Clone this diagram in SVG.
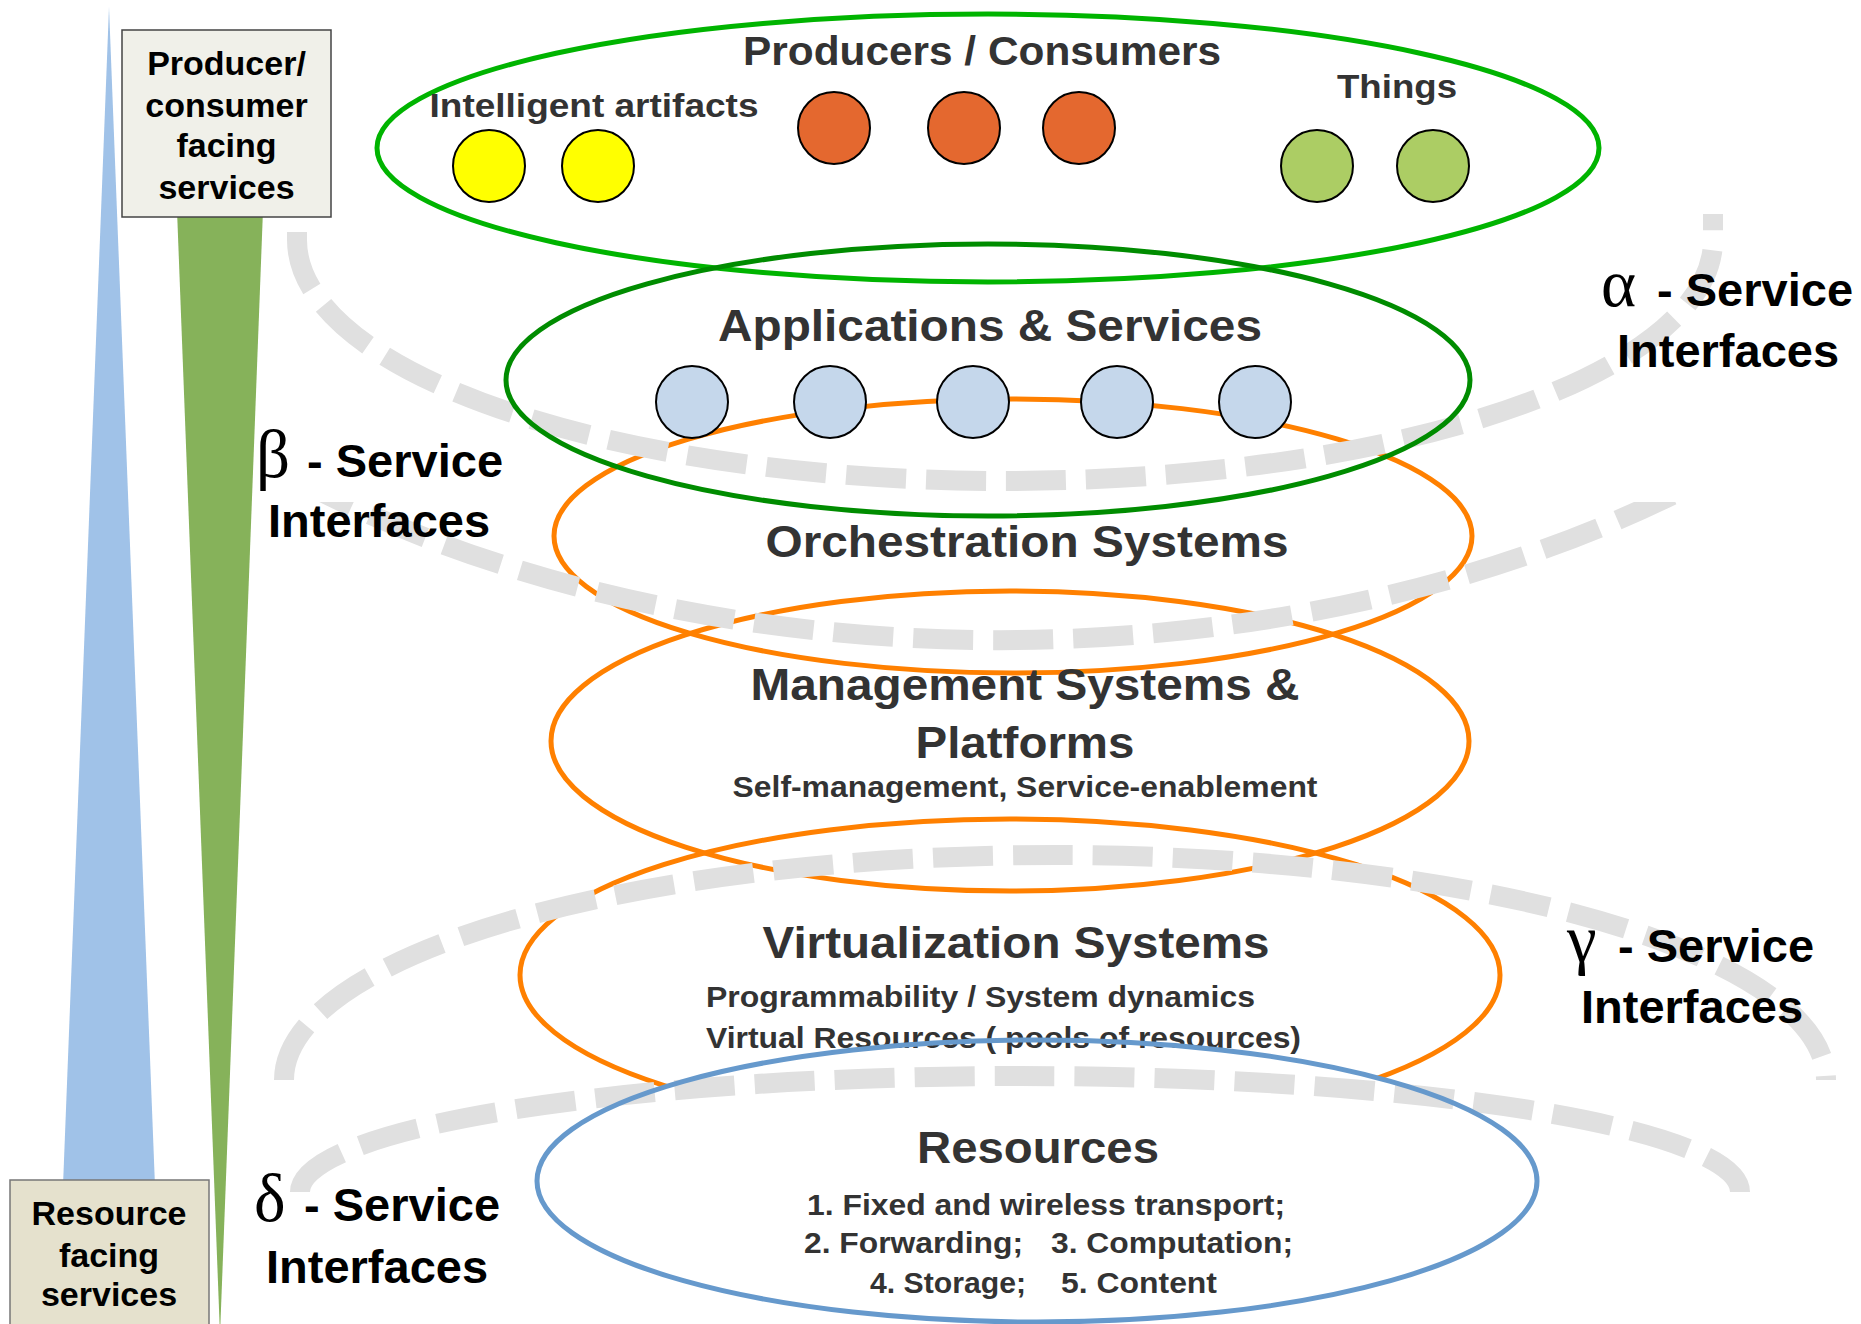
<svg xmlns="http://www.w3.org/2000/svg" width="1861" height="1324" viewBox="0 0 1861 1324">
<style>
.ttl{font-family:"Liberation Sans",Arial,sans-serif;font-weight:bold;fill:#333333;}
.h{font-size:45px;text-anchor:middle;}
.s{font-size:29px;}
.box{font-family:"Liberation Sans",Arial,sans-serif;font-weight:bold;font-size:34px;fill:#000;text-anchor:middle;}
.lbl{font-family:"Liberation Sans",Arial,sans-serif;font-weight:bold;font-size:47px;fill:#000;}
.gk{font-family:"Liberation Serif","Times New Roman",serif;font-weight:normal;font-size:67px;}
.dash{fill:none;stroke:#e0e0e0;stroke-width:20;stroke-dasharray:60 20;}
.orng{fill:none;stroke:#ff8000;stroke-width:5;}
.dot{stroke:#000;stroke-width:2;}
</style>
<defs>
<clipPath id="clipBeta"><rect x="0" y="502" width="1861" height="300"/></clipPath>
</defs>
<rect width="1861" height="1324" fill="#fff"/>

<g id="gradient-bars">
<polygon points="109,7 63,1186 155,1186" fill="#a0c2e8"/>
<polygon points="177,210 263,210 220,1335" fill="#86b25a"/>
</g>

<g id="producer-box">
<rect x="122" y="30" width="209" height="187" fill="#f0f0e9" stroke="#444" stroke-width="1.5"/>
<text class="box" x="226.5" y="75">Producer/</text>
<text class="box" x="226.5" y="117">consumer</text>
<text class="box" x="226.5" y="157">facing</text>
<text class="box" x="226.5" y="199">services</text>
</g>

<g id="resource-box">
<rect x="10" y="1180" width="199" height="150" fill="#e5e1cd" stroke="#777" stroke-width="1.5"/>
<text class="box" x="109" y="1225">Resource</text>
<text class="box" x="109" y="1267">facing</text>
<text class="box" x="109" y="1306">services</text>
</g>

<g id="orchestration">
<ellipse class="orng" cx="1013" cy="536" rx="459" ry="137"/>
</g>
<g id="management">
<ellipse class="orng" cx="1010" cy="741" rx="459" ry="150"/>
</g>
<g id="virtualization">
<ellipse class="orng" cx="1010" cy="975" rx="490" ry="156"/>
</g>
<g id="resources-fill">
<ellipse cx="1037" cy="1181" rx="500" ry="141" fill="#fff"/>
</g>

<g id="connectors">
<path class="dash" d="M297,232 L297,240 A708,241 0 0 0 1713,240 L1713,214"/>
<path class="dash" clip-path="url(#clipBeta)" d="M298,480 A1100,696 0 0 0 1702,480"/>
<path class="dash" d="M284,1080 A771,225 0 0 1 1826,1080"/>
<path class="dash" d="M300,1192 A720,116 0 0 1 1740,1192"/>
</g>

<g id="producers-consumers">
<ellipse cx="988" cy="148" rx="611" ry="134" fill="none" stroke="#00b400" stroke-width="5"/>
<circle class="dot" cx="489" cy="166" r="36" fill="#ffff00"/>
<circle class="dot" cx="598" cy="166" r="36" fill="#ffff00"/>
<circle class="dot" cx="834" cy="128" r="36" fill="#e4682f"/>
<circle class="dot" cx="964" cy="128" r="36" fill="#e4682f"/>
<circle class="dot" cx="1079" cy="128" r="36" fill="#e4682f"/>
<circle class="dot" cx="1317" cy="166" r="36" fill="#accd64"/>
<circle class="dot" cx="1433" cy="166" r="36" fill="#accd64"/>
<text class="ttl" x="982" y="65" font-size="40" text-anchor="middle" textLength="478" lengthAdjust="spacingAndGlyphs">Producers / Consumers</text>
<text class="ttl" x="594" y="117" font-size="34" text-anchor="middle" textLength="329" lengthAdjust="spacingAndGlyphs">Intelligent artifacts</text>
<text class="ttl" x="1397" y="98" font-size="34" text-anchor="middle" textLength="120" lengthAdjust="spacingAndGlyphs">Things</text>
</g>

<g id="applications">
<ellipse cx="988" cy="380" rx="482" ry="136" fill="none" stroke="#008c00" stroke-width="5"/>
<circle class="dot" cx="692" cy="402" r="36" fill="#c5d7eb"/>
<circle class="dot" cx="830" cy="402" r="36" fill="#c5d7eb"/>
<circle class="dot" cx="973" cy="402" r="36" fill="#c5d7eb"/>
<circle class="dot" cx="1117" cy="402" r="36" fill="#c5d7eb"/>
<circle class="dot" cx="1255" cy="402" r="36" fill="#c5d7eb"/>
<text class="ttl h" x="990" y="341" textLength="544" lengthAdjust="spacingAndGlyphs">Applications &amp; Services</text>
</g>

<g id="orchestration-text">
<text class="ttl h" x="1027" y="557" textLength="523" lengthAdjust="spacingAndGlyphs">Orchestration Systems</text>
</g>
<g id="management-text">
<text class="ttl h" x="1025" y="700" textLength="549" lengthAdjust="spacingAndGlyphs">Management Systems &amp;</text>
<text class="ttl h" x="1025" y="758" textLength="219" lengthAdjust="spacingAndGlyphs">Platforms</text>
<text class="ttl s" x="1025" y="797" text-anchor="middle" textLength="585" lengthAdjust="spacingAndGlyphs">Self-management, Service-enablement</text>
</g>
<g id="virtualization-text">
<text class="ttl h" x="1016" y="958" textLength="507" lengthAdjust="spacingAndGlyphs">Virtualization Systems</text>
<text class="ttl s" x="706" y="1007" textLength="549" lengthAdjust="spacingAndGlyphs">Programmability / System dynamics</text>
<text class="ttl s" x="706" y="1048" textLength="595" lengthAdjust="spacingAndGlyphs">Virtual Resources ( pools of resources)</text>
</g>

<g id="resources">
<text class="ttl h" x="1038" y="1163" textLength="242" lengthAdjust="spacingAndGlyphs">Resources</text>
<text class="ttl s" x="1046" y="1215" text-anchor="middle" textLength="478" lengthAdjust="spacingAndGlyphs">1. Fixed and wireless transport;</text>
<text class="ttl s" x="804" y="1253" textLength="219" lengthAdjust="spacingAndGlyphs">2. Forwarding;</text>
<text class="ttl s" x="1051" y="1253" textLength="242" lengthAdjust="spacingAndGlyphs">3. Computation;</text>
<text class="ttl s" x="870" y="1293" textLength="156" lengthAdjust="spacingAndGlyphs">4. Storage;</text>
<text class="ttl s" x="1061" y="1293" textLength="156" lengthAdjust="spacingAndGlyphs">5. Content</text>
<ellipse cx="1037" cy="1181" rx="500" ry="141" fill="none" stroke="#6699cc" stroke-width="5"/>
</g>

<g id="alpha-label">
<text class="lbl" y="306"><tspan class="gk" x="1601">α</tspan><tspan x="1644"> - Service</tspan></text>
<text class="lbl" x="1617" y="367">Interfaces</text>
</g>
<g id="beta-label">
<text class="lbl" y="477"><tspan class="gk" x="256">β</tspan><tspan x="294"> - Service</tspan></text>
<text class="lbl" x="268" y="537">Interfaces</text>
</g>
<g id="gamma-label">
<text class="lbl" y="962"><tspan class="gk" x="1567">γ</tspan><tspan x="1605"> - Service</tspan></text>
<text class="lbl" x="1581" y="1023">Interfaces</text>
</g>
<g id="delta-label">
<text class="lbl" y="1221"><tspan class="gk" x="254">δ</tspan><tspan x="291"> - Service</tspan></text>
<text class="lbl" x="266" y="1283">Interfaces</text>
</g>
</svg>
